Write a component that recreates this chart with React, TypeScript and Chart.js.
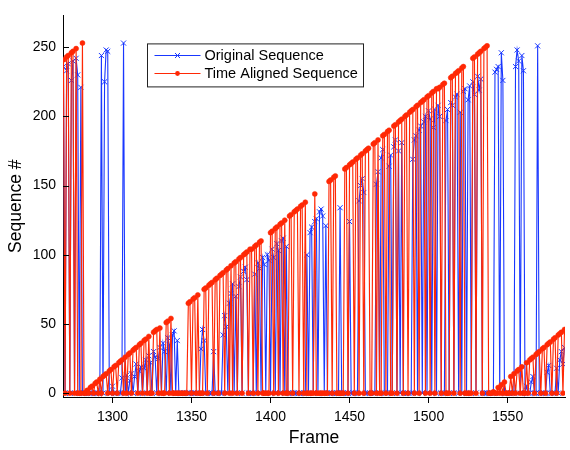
import React, { useEffect, useRef } from 'react';
import { Chart, registerables } from 'chart.js';

Chart.register(...registerables);

// Frame numbers run consecutively from the first frame
const firstFrame = 1269;

// Original (received) sequence number per frame, 0 = nothing
const originalSeq = [
  236, 0, 233, 238, 0, 226, 240, 0, 242, 230,
  0, 221, 0, 0, 0, 0, 0, 0, 0, 0,
  0, 0, 0, 0, 244, 0, 225, 248, 247, 0,
  0, 5, 0, 0, 0, 0, 0, 11, 253, 0,
  13, 0, 9, 14, 0, 12, 21, 0, 16, 19,
  0, 18, 24, 0, 27, 22, 0, 30, 26, 0,
  25, 33, 0, 36, 30, 0, 40, 35, 0, 42,
  45, 0, 38, 0, 0, 0, 0, 0, 0, 0,
  0, 0, 0, 0, 0, 0, 0, 32, 46, 38,
  0, 0, 0, 0, 0, 30, 0, 0, 0, 0,
  0, 42, 56, 48, 0, 65, 72, 79, 0, 70,
  0, 77, 84, 0, 88, 91, 82, 0, 0, 0,
  0, 86, 0, 94, 90, 0, 98, 93, 0, 100,
  96, 0, 104, 98, 0, 108, 103, 0, 110, 112,
  0, 106, 0, 0, 0, 0, 0, 0, 0, 0,
  0, 0, 0, 0, 100, 0, 116, 120, 0, 124,
  126, 0, 131, 133, 128, 0, 121, 0, 0, 0,
  0, 0, 0, 0, 0, 134, 0, 0, 0, 0,
  0, 124, 0, 0, 0, 0, 0, 139, 150, 155,
  145, 0, 0, 0, 0, 0, 0, 0, 151, 160,
  0, 170, 176, 0, 0, 0, 164, 172, 0, 178,
  183, 0, 175, 0, 181, 0, 0, 0, 0, 0,
  0, 169, 183, 186, 0, 190, 193, 0, 196, 200,
  0, 204, 198, 0, 192, 205, 0, 208, 200, 0,
  0, 0, 197, 205, 0, 210, 208, 0, 214, 216,
  0, 203, 0, 218, 220, 0, 212, 222, 0, 225,
  216, 0, 229, 219, 227, 0, 0, 0, 0, 0,
  0, 0, 0, 232, 234, 236, 0, 246, 226, 0,
  0, 0, 0, 0, 0, 0, 236, 248, 240, 0,
  244, 233, 0, 5, 0, 0, 8, 12, 0, 0,
  251, 0, 0, 0, 0, 0, 15, 20, 0, 0,
  0, 0, 18, 0, 24, 30, 21, 33,
];

// Time aligned sequence number per frame, 0 = nothing
const alignedSeq = [
  241, 0, 243, 244, 0, 246, 247, 0, 249, 0,
  0, 0, 253, 0, 0, 2, 0, 4, 5, 0,
  7, 8, 0, 10, 0, 12, 13, 14, 0, 16,
  17, 0, 19, 20, 0, 22, 23, 24, 0, 26,
  0, 28, 29, 0, 31, 32, 33, 0, 35, 36,
  0, 38, 39, 0, 41, 0, 0, 44, 45, 46,
  0, 47, 0, 0, 0, 51, 52, 0, 54, 0,
  0, 0, 0, 0, 0, 0, 0, 0, 0, 65,
  66, 0, 68, 69, 0, 71, 0, 0, 0, 75,
  76, 0, 78, 79, 80, 0, 82, 83, 0, 85,
  86, 87, 0, 89, 90, 0, 92, 0, 94, 95,
  0, 97, 98, 0, 100, 101, 102, 0, 104, 104,
  0, 106, 107, 0, 109, 110, 0, 0, 0, 0,
  0, 116, 117, 0, 119, 120, 0, 122, 123, 0,
  125, 0, 0, 128, 129, 0, 131, 132, 133, 0,
  135, 136, 0, 138, 0, 0, 0, 0, 0, 144,
  0, 0, 0, 0, 0, 0, 0, 0, 153, 154,
  0, 156, 157, 0, 0, 0, 0, 0, 162, 163,
  0, 165, 166, 167, 0, 169, 170, 0, 172, 173,
  0, 175, 176, 177, 0, 0, 180, 181, 0, 183,
  0, 0, 186, 187, 0, 189, 190, 0, 0, 193,
  194, 0, 196, 197, 198, 0, 200, 201, 0, 203,
  204, 205, 0, 207, 208, 0, 210, 211, 212, 0,
  214, 215, 0, 217, 218, 0, 220, 220, 221, 0,
  223, 224, 0, 0, 0, 228, 229, 0, 231, 232,
  233, 0, 235, 236, 0, 0, 0, 0, 0, 242,
  243, 0, 245, 246, 247, 0, 249, 250, 251, 0,
  0, 0, 1, 0, 0, 4, 0, 6, 0, 8,
  0, 0, 0, 12, 0, 14, 0, 16, 17, 0,
  19, 0, 0, 22, 0, 24, 25, 26, 0, 28,
  29, 30, 0, 32, 33, 0, 35, 36, 37, 0,
  39, 40, 0, 42, 43, 44, 0, 46,
];

const seriesNames = ['Original Sequence', 'Time Aligned Sequence'];
const xTicks = [1300, 1350, 1400, 1450, 1500, 1550];
const yTicks = [0, 50, 100, 150, 200, 250];
const xLimits = [1268.7, 1586.3];
const yLimits = [-2.8, 273];

const BLUE = 'rgb(25,55,255)';
const RED = 'rgb(255,40,5)';
const FONT = "'Liberation Sans', Arial, Helvetica, sans-serif";

const frames = alignedSeq.map((_, i) => firstFrame + i);

const innerYTicks = {
  id: 'innerYTicks',
  afterDraw(chart: any) {
    const { ctx, chartArea, scales } = chart;
    const y = scales.y;
    ctx.save();
    ctx.strokeStyle = '#000';
    ctx.lineWidth = 1;
    ctx.beginPath();
    for (const t of y.ticks) {
      const py = Math.round(y.getPixelForValue(t.value)) + 0.5;
      ctx.moveTo(chartArea.left, py);
      ctx.lineTo(chartArea.left + 6, py);
    }
    ctx.stroke();
    ctx.restore();
  },
};

const boxLegend = {
  id: 'boxLegend',
  afterDraw(chart: any) {
    const { ctx, chartArea } = chart;
    const x0 = chartArea.left + 84.5;
    const y0 = chartArea.top + 28.5;
    const w = 216;
    const h = 43;
    ctx.save();
    ctx.fillStyle = '#fff';
    ctx.fillRect(x0, y0, w, h);
    ctx.strokeStyle = '#222';
    ctx.lineWidth = 1;
    ctx.strokeRect(x0, y0, w, h);
    const colors = [BLUE, RED];
    seriesNames.forEach((name, i) => {
      const cy = y0 + 11 + i * 18.5;
      const lx0 = x0 + 7;
      const lx1 = x0 + 53;
      const mx = (lx0 + lx1) / 2;
      const c = Math.round(cy) + 0.5;
      ctx.strokeStyle = colors[i];
      ctx.lineWidth = 1;
      ctx.beginPath();
      ctx.moveTo(lx0, c);
      ctx.lineTo(lx1, c);
      ctx.stroke();
      if (i === 0) {
        const r = 2.5;
        ctx.beginPath();
        ctx.moveTo(mx - r, c - r);
        ctx.lineTo(mx + r, c + r);
        ctx.moveTo(mx - r, c + r);
        ctx.lineTo(mx + r, c - r);
        ctx.stroke();
      } else {
        ctx.fillStyle = colors[i];
        ctx.beginPath();
        ctx.arc(mx, c, 2.4, 0, Math.PI * 2);
        ctx.fill();
      }
      ctx.fillStyle = '#000';
      ctx.font = `14.5px ${FONT}`;
      ctx.textBaseline = 'middle';
      ctx.textAlign = 'left';
      ctx.fillText(name, x0 + 57, cy + 1);
    });
    ctx.restore();
  },
};

function SequenceChart() {
  const canvasRef = useRef<HTMLCanvasElement | null>(null);

  useEffect(() => {
    if (!canvasRef.current) return;
    Chart.defaults.font.family = FONT;
    const chart = new Chart(canvasRef.current, {
      type: 'line',
      data: {
        datasets: [
          {
            label: seriesNames[1],
            data: frames.map((f, i) => ({ x: f, y: alignedSeq[i] })),
            borderColor: RED,
            backgroundColor: RED,
            borderWidth: 1.15,
            pointStyle: 'circle',
            pointRadius: 2.5,
            pointBackgroundColor: RED,
            pointBorderColor: RED,
            pointBorderWidth: 0.5,
            tension: 0,
            fill: false,
          },
          {
            label: seriesNames[0],
            data: frames.map((f, i) => ({ x: f, y: originalSeq[i] })),
            borderColor: BLUE,
            backgroundColor: BLUE,
            borderWidth: 1.1,
            pointStyle: 'crossRot',
            pointRadius: 3.6,
            pointBorderColor: BLUE,
            pointBorderWidth: 1,
            tension: 0,
            fill: false,
          },
        ],
      },
      options: {
        animation: false,
        responsive: false,
        events: [],
        layout: { padding: { top: 5, right: 0, left: 0, bottom: 0 } },
        plugins: {
          legend: { display: false },
          tooltip: { enabled: false },
        },
        scales: {
          x: {
            type: 'linear',
            min: xLimits[0],
            max: xLimits[1],
            afterBuildTicks: (s: any) => {
              s.ticks = xTicks.map((v) => ({ value: v }));
            },
            afterFit: (s: any) => {
              s.height = 53;
            },
            grid: {
              display: true,
              drawOnChartArea: false,
              drawTicks: true,
              tickLength: 6,
              color: '#000',
            },
            border: { display: true, color: '#000', width: 1 },
            ticks: {
              color: '#000',
              font: { size: 14 },
              padding: 6,
              maxRotation: 0,
              autoSkip: false,
              callback: (v: any) => String(v),
            },
            title: {
              display: true,
              text: 'Frame',
              color: '#000',
              font: { size: 17.5 },
              padding: { top: 0, bottom: 1.5 },
            },
          },
          y: {
            type: 'linear',
            min: yLimits[0],
            max: yLimits[1],
            afterBuildTicks: (s: any) => {
              s.ticks = yTicks.map((v) => ({ value: v }));
            },
            afterFit: (s: any) => {
              s.width = 63;
            },
            grid: { display: false, drawTicks: false },
            border: { display: true, color: '#000', width: 1 },
            ticks: {
              color: '#000',
              font: { size: 14 },
              padding: 7,
              callback: (v: any) => String(v),
            },
            title: {
              display: true,
              text: 'Sequence #',
              color: '#000',
              font: { size: 17.5 },
              padding: { top: 6, bottom: 0 },
            },
          },
        },
      },
      plugins: [innerYTicks, boxLegend],
    });
    return () => chart.destroy();
  }, []);

  return (
    <div style={{ position: 'fixed', left: 0, top: 0, width: 570, height: 450, background: '#fff' }}>
      <canvas ref={canvasRef} width={570} height={450} style={{ display: 'block' }} />
    </div>
  );
}

export default function App() {
  return <SequenceChart />;
}
